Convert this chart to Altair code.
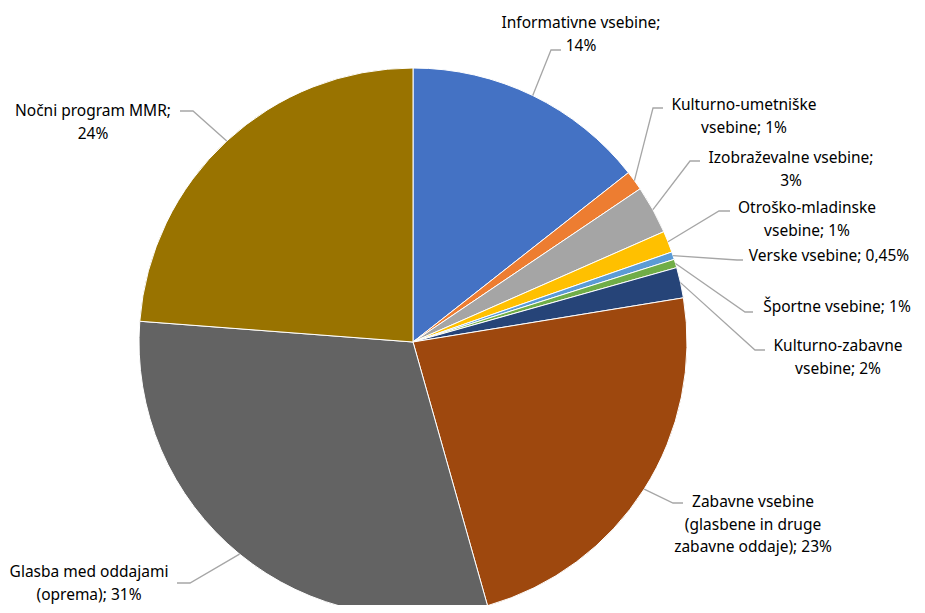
import math
import altair as alt
import pandas as pd

# ---- data (clockwise from 12 o'clock) ----
names = [
    "Informativne vsebine",
    "Kulturno-umetniške vsebine",
    "Izobraževalne vsebine",
    "Otroško-mladinske vsebine",
    "Verske vsebine",
    "Športne vsebine",
    "Kulturno-zabavne vsebine",
    "Zabavne vsebine (glasbene in druge zabavne oddaje)",
    "Glasba med oddajami (oprema)",
    "Nočni program MMR",
]
values = [14.4, 1.16, 2.85, 1.27, 0.45, 0.5, 1.8, 23.2, 30.6, 23.8]
pct_labels = ["14%", "1%", "3%", "1%", "0,45%", "1%", "2%", "23%", "31%", "24%"]
label_text = [
    "Informativne vsebine;\n14%",
    "Kulturno-umetniške\nvsebine; 1%",
    "Izobraževalne vsebine;\n3%",
    "Otroško-mladinske\nvsebine; 1%",
    "Verske vsebine; 0,45%",
    "Športne vsebine; 1%",
    "Kulturno-zabavne\nvsebine; 2%",
    "Zabavne vsebine\n(glasbene in druge\nzabavne oddaje); 23%",
    "Glasba med oddajami\n(oprema); 31%",
    "Nočni program MMR;\n24%",
]
colors = ["#4472C4", "#ED7D31", "#A5A5A5", "#FFC000", "#5B9BD5",
          "#70AD47", "#264478", "#9E480E", "#636363", "#997300"]

# ---- layout (chart pixel space) ----
W, H = 909, 597
CX, CY, R = 405, 334, 274
OFF = 8
# label anchor: text centre x, first-line baseline y, leader elbow and end (page coords)
label_cx = [581, 744, 791, 807, 829, 837, 838, 753, 89, 93]
label_y1 = [28, 110, 163, 213, 261, 312, 351, 507, 577, 116]
elbow = [(551, 50), (653, 108), (690, 161), (719, 211), (737, 260),
         (745, 312), (755, 350), (673, 503), (190, 583), (193, 111)]
elbow_end = [(561, 50), (663, 108), (700, 161), (730, 211), (743, 260),
             (753, 312), (765, 350), (683, 503), (177, 583), (180, 111)]

total = sum(values)
pie_df = pd.DataFrame({"name": names, "value": values, "idx": list(range(len(names)))})

# leader lines start at the slice's mid-angle on the rim
line_rows = []
cum = 0.0
for i, v in enumerate(values):
    mid = (cum + v / 2) / total * 2 * math.pi
    cum += v
    sx = CX + R * math.sin(mid)
    sy = CY - R * math.cos(mid)
    pts = [(sx, sy), (elbow[i][0] - OFF, elbow[i][1] - OFF),
           (elbow_end[i][0] - OFF, elbow_end[i][1] - OFF)]
    for k, (px, py) in enumerate(pts):
        line_rows.append({"name": names[i], "k": k, "px": px, "py": py})
line_df = pd.DataFrame(line_rows)

text_df = pd.DataFrame({
    "name": names,
    "txt": label_text,
    "tx": [x - OFF for x in label_cx],
    "ty": [y - OFF for y in label_y1],
})

pie = alt.Chart(pie_df).mark_arc(outerRadius=R, stroke="white", strokeWidth=1).encode(
    theta=alt.Theta("value:Q", stack=True),
    order=alt.Order("idx:Q"),
    color=alt.Color("name:N", scale=alt.Scale(domain=names, range=colors), legend=None),
    x=alt.value(CX),
    y=alt.value(CY),
)

leaders = alt.Chart(line_df).mark_line(color="#A6A6A6", strokeWidth=1.3).encode(
    x=alt.X("px:Q", scale=None),
    y=alt.Y("py:Q", scale=None),
    detail="name:N",
    order="k:Q",
)

labels = alt.Chart(text_df).mark_text(
    align="center", baseline="alphabetic", lineBreak="\n", lineHeight=22.5,
    font="Noto Sans", fontSize=15.5, color="#000000",
).encode(
    x=alt.X("tx:Q", scale=None),
    y=alt.Y("ty:Q", scale=None),
    text="txt:N",
)

chart = alt.layer(pie, leaders, labels).properties(
    width=W, height=H, padding=0, autosize=alt.AutoSizeParams(type="none")
).configure_view(stroke=None)

chart.save("out.html", embed_options={"renderer": "svg", "actions": False})
